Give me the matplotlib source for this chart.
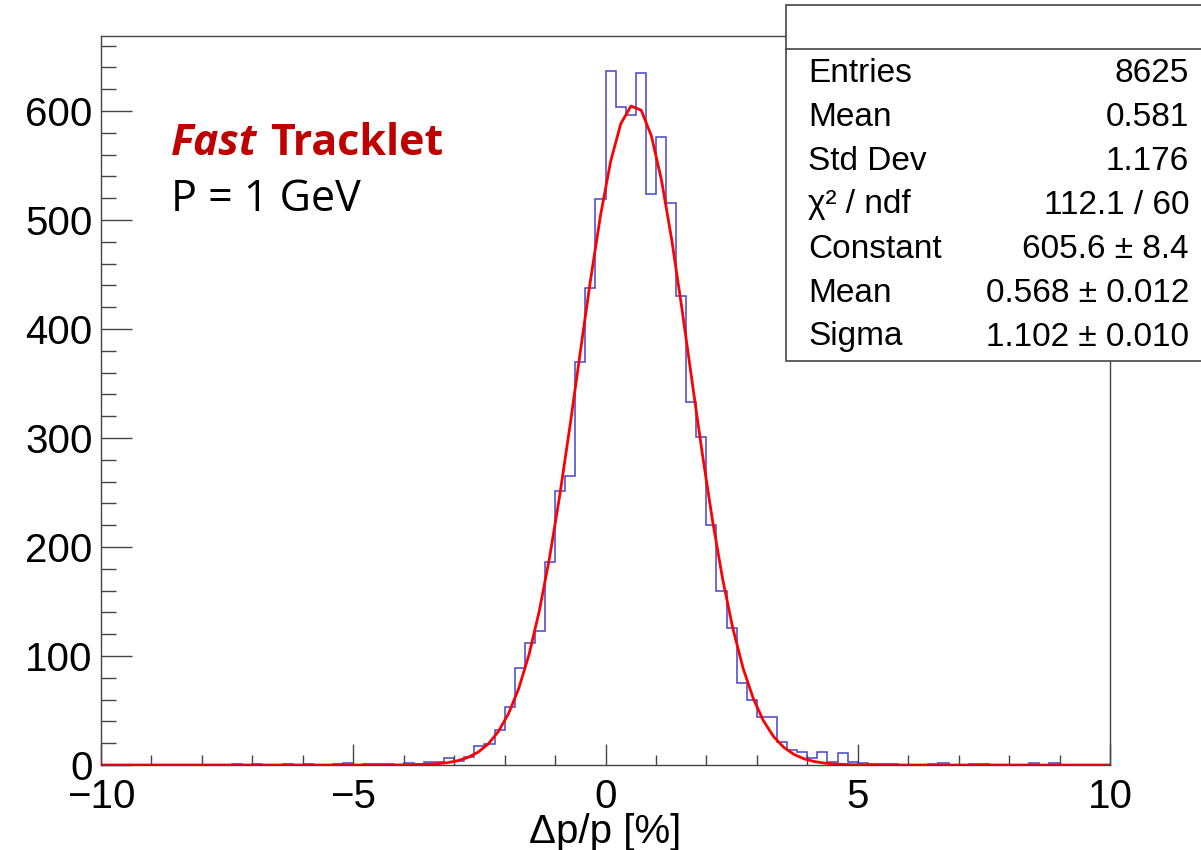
import numpy as np
import matplotlib
matplotlib.use('Agg')
import matplotlib.pyplot as plt
from matplotlib.patches import Rectangle
from matplotlib.lines import Line2D

# histogram: 100 bins from -10 to 10 (dp/p in %)
bin_lo, bin_hi, n_bins = -10.0, 10.0, 100
counts = [
    0, 0, 0, 0, 0, 0, 0, 0, 0, 0,
    0, 0, 0, 1, 0, 1, 0, 0, 1, 0,
    1, 0, 0, 1, 2, 0, 1, 1, 1, 0,
    2, 1, 3, 3, 6, 4, 7, 17, 19, 32,
    53, 89, 112, 123, 186, 251, 265, 370, 438, 519,
    637, 604, 596, 635, 524, 576, 516, 430, 333, 301,
    220, 160, 126, 75, 60, 44, 44, 21, 14, 12,
    6, 12, 3, 11, 3, 2, 1, 1, 1, 0,
    0, 0, 1, 2, 0, 0, 1, 1, 0, 0,
    0, 0, 2, 0, 2, 0, 0, 0, 0, 0,
]

# gaussian fit parameters (from the stats box)
fit_const = 605.6
fit_mean = 0.568
fit_sigma = 1.102

stat_labels = ["Entries", "Mean", "Std Dev", "\u03c7\u00b2 / ndf", "Constant", "Mean", "Sigma"]
stat_values = ["8625", "0.581", "1.176", "112.1 / 60", "605.6 \u00b1 8.4",
               "0.568 \u00b1 0.012", "1.102 \u00b1 0.010"]

W, H = 1201, 850
fig = plt.figure(figsize=(W / 100, H / 100), dpi=100)
ax = fig.add_axes([101 / W, 1 - 765 / H, (1110 - 101) / W, (765 - 36) / H])

edges = np.linspace(bin_lo, bin_hi, n_bins + 1)
ax.stairs(counts, edges, color='#4444cc', lw=1.1, baseline=0)

xf = np.linspace(bin_lo, bin_hi, 100)
yf = fit_const * np.exp(-0.5 * ((xf - fit_mean) / fit_sigma) ** 2)
ax.plot(xf, yf, color='#ff0000', lw=2.0)

ax.set_xlim(-10, 10)
ax.set_ylim(0, 1.05 * max(counts))

axcol = '#444444'
for s in ax.spines.values():
    s.set_color(axcol)
    s.set_linewidth(1.0)

ax.set_xticks([-10, -5, 0, 5, 10])
ax.set_xticks(np.arange(-10, 11, 1), minor=True)
ax.set_yticks(np.arange(0, 601, 100))
ax.set_yticks(np.arange(0, 661, 20), minor=True)
ax.tick_params(axis='x', which='major', direction='in', length=15, width=1, color=axcol, pad=9)
ax.tick_params(axis='x', which='minor', direction='in', length=7.5, width=1, color=axcol)
ax.tick_params(axis='y', which='major', direction='in', length=22, width=1, color=axcol, pad=6)
ax.tick_params(axis='y', which='minor', direction='in', length=11, width=1, color=axcol)
for lab in ax.get_xticklabels() + ax.get_yticklabels():
    lab.set_fontfamily('Liberation Sans')
    lab.set_fontsize(29)

ax.set_xlabel("\u0394p/p [%]", fontfamily='Liberation Sans', fontsize=29, labelpad=-2)

# in-plot labels
fig.text(171 / W, 1 - 155 / H, "Fast", color='#c00000', fontfamily='Open Sans',
         fontweight='bold', fontstyle='italic', fontsize=31, va='baseline')
fig.text(270 / W, 1 - 155 / H, "Tracklet", color='#c00000', fontfamily='Open Sans',
         fontweight='bold', fontsize=31, va='baseline')
fig.text(171 / W, 1 - 211 / H, "P = 1 GeV", color='black', fontfamily='Open Sans',
         fontsize=31, va='baseline')

# stats box
box = Rectangle((786 / W, 1 - 361 / H), 0.5, (361 - 5) / H, transform=fig.transFigure,
                facecolor='white', edgecolor=axcol, lw=1.2, clip_on=False, zorder=5)
fig.add_artist(box)
fig.add_artist(Line2D([786 / W, 1.0], [1 - 49 / H, 1 - 49 / H], transform=fig.transFigure,
                      color=axcol, lw=1.2, zorder=6))
row_y = [73, 118, 161, 205, 249, 294, 337]
for lab, val, yy in zip(stat_labels, stat_values, row_y):
    fig.text(808 / W, 1 - yy / H, lab, fontfamily='Liberation Sans', fontsize=24,
             va='center', ha='left', zorder=7)
    fig.text(1189 / W, 1 - yy / H, val, fontfamily='Liberation Sans', fontsize=24,
             va='center', ha='right', zorder=7)

fig.savefig('out.png', dpi=100)
